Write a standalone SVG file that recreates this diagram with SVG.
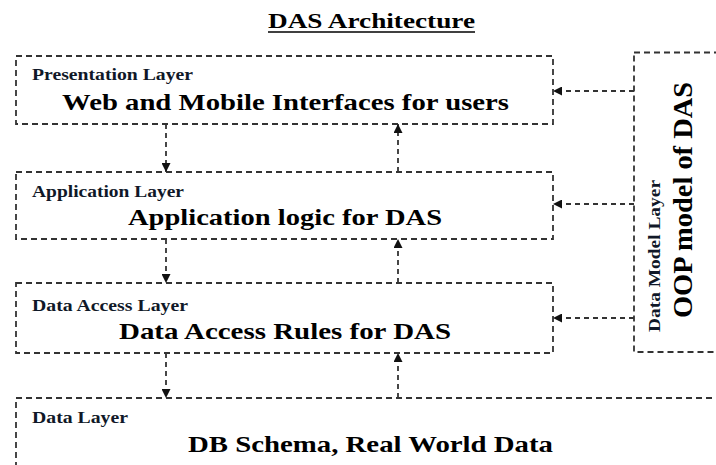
<svg xmlns="http://www.w3.org/2000/svg" width="716" height="465" viewBox="0 0 716 465">
<defs>
<style>
.box{fill:none;stroke:#333;stroke-width:1.8;stroke-dasharray:6,4}
.con{fill:none;stroke:#333;stroke-width:1.8;stroke-dasharray:5,4}
text{font-family:'Liberation Serif','Times New Roman','DejaVu Serif',serif;font-weight:bold;fill:#000}
.small{font-size:16.5px;fill:#101828}
.main{font-size:24px}
</style>
<marker id="ah" viewBox="0 0 10 10" refX="10" refY="5" markerWidth="9" markerHeight="9" markerUnits="userSpaceOnUse" orient="auto">
<path d="M0,0 L10,5 L0,10 Z" fill="#111"/>
</marker>
</defs>
<rect width="716" height="465" fill="#fff"/>
<g id="title">
<text x="268" y="28" font-size="22" textLength="207" lengthAdjust="spacingAndGlyphs">DAS Architecture</text>
<line x1="268" y1="32" x2="475" y2="32" stroke="#000" stroke-width="1.5"/>
</g>
<g id="presentation">
<rect class="box" x="16" y="56" width="537" height="68"/>
<text class="small" x="32" y="79.5" textLength="161" lengthAdjust="spacingAndGlyphs">Presentation Layer</text>
<text class="main" x="62" y="109.5" textLength="447" lengthAdjust="spacingAndGlyphs">Web and Mobile Interfaces for users</text>
</g>
<g id="application">
<rect class="box" x="16" y="172" width="537" height="67"/>
<text class="small" x="32" y="196.7" textLength="152" lengthAdjust="spacingAndGlyphs">Application Layer</text>
<text class="main" x="128" y="225" textLength="314" lengthAdjust="spacingAndGlyphs">Application logic for DAS</text>
</g>
<g id="dataaccess">
<rect class="box" x="16" y="283" width="537" height="70"/>
<text class="small" x="32" y="310.7" textLength="156" lengthAdjust="spacingAndGlyphs">Data Access Layer</text>
<text class="main" x="119" y="339" textLength="332" lengthAdjust="spacingAndGlyphs">Data Access Rules for DAS</text>
</g>
<g id="data">
<rect class="box" x="16" y="398" width="720" height="100"/>
<text class="small" x="32" y="423.3" textLength="96" lengthAdjust="spacingAndGlyphs">Data Layer</text>
<text class="main" x="188" y="452.3" textLength="365" lengthAdjust="spacingAndGlyphs">DB Schema, Real World Data</text>
</g>
<g id="datamodel">
<rect class="box" x="634" y="52.5" width="100" height="299.5"/>
<text font-size="16" transform="translate(660,332) rotate(-90)" textLength="152" lengthAdjust="spacingAndGlyphs" style="fill:#101828">Data Model Layer</text>
<text font-size="28" transform="translate(692,318) rotate(-90)" textLength="236" lengthAdjust="spacingAndGlyphs">OOP model of DAS</text>
</g>
<g id="connectors">
<line class="con" x1="166" y1="124" x2="166" y2="172" marker-end="url(#ah)"/>
<line class="con" x1="166" y1="239" x2="166" y2="283" marker-end="url(#ah)"/>
<line class="con" x1="166" y1="353" x2="166" y2="398" marker-end="url(#ah)"/>
<line class="con" x1="398" y1="172" x2="398" y2="124" marker-end="url(#ah)"/>
<line class="con" x1="398" y1="283" x2="398" y2="239" marker-end="url(#ah)"/>
<line class="con" x1="398" y1="398" x2="398" y2="353" marker-end="url(#ah)"/>
<line class="con" x1="634" y1="91" x2="553" y2="91" marker-end="url(#ah)"/>
<line class="con" x1="634" y1="204" x2="553" y2="204" marker-end="url(#ah)"/>
<line class="con" x1="634" y1="318" x2="553" y2="318" marker-end="url(#ah)"/>
</g>
</svg>
